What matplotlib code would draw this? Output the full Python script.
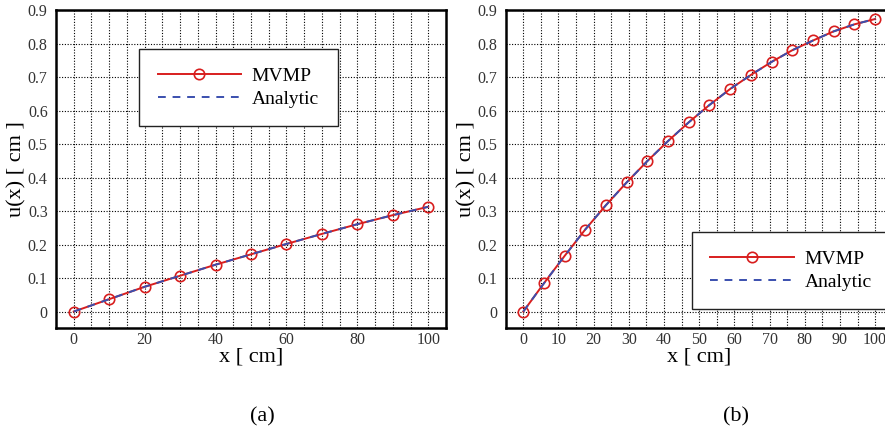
import matplotlib
matplotlib.use("Agg")
import matplotlib.pyplot as plt
from matplotlib.lines import Line2D

# panel (a): uniform nodes
x_a = [0, 10, 20, 30, 40, 50, 60, 70, 80, 90, 100]
u_a_mvmp = [0.0, 0.037, 0.074, 0.107, 0.140, 0.171, 0.202, 0.232, 0.261, 0.288, 0.313]
u_a_analytic = [0.0, 0.037, 0.074, 0.107, 0.140, 0.171, 0.202, 0.232, 0.261, 0.288, 0.313]

# panel (b): 18 nodes
x_b = [0, 5.9, 11.8, 17.6, 23.5, 29.4, 35.3, 41.2, 47.1, 52.9, 58.8, 64.7,
       70.6, 76.5, 82.4, 88.2, 94.1, 100]
u_b_mvmp = [0.0, 0.085, 0.167, 0.245, 0.318, 0.386, 0.450, 0.510, 0.566, 0.617,
            0.665, 0.707, 0.746, 0.781, 0.810, 0.837, 0.858, 0.874]
u_b_analytic = [0.0, 0.085, 0.167, 0.245, 0.318, 0.386, 0.450, 0.510, 0.566, 0.617,
                0.665, 0.707, 0.746, 0.781, 0.810, 0.837, 0.858, 0.874]

x_ticks_a = [0, 20, 40, 60, 80, 100]
x_ticks_b = [0, 10, 20, 30, 40, 50, 60, 70, 80, 90, 100]
y_ticks = [0, 0.1, 0.2, 0.3, 0.4, 0.5, 0.6, 0.7, 0.8, 0.9]

RED = '#d81e1e'
BLUE = '#3a4fae'

plt.rcParams['font.family'] = ['Liberation Serif', 'DejaVu Serif']

fig = plt.figure(figsize=(8.85, 4.33), dpi=100)
ax_a = fig.add_axes([56 / 885, 1 - 328.3 / 433, 390 / 885, 318 / 433])
ax_b = fig.add_axes([505.7 / 885, 1 - 328.3 / 433, 387 / 885, 318 / 433])


def draw_panel(ax, x, mvmp, analytic, xticks, legend_xy):
    ax.plot(x, mvmp, color=RED, lw=1.4, marker='o', ms=7.5, mfc='none',
            mec=RED, mew=1.2, zorder=3)
    ax.plot(x, analytic, color=BLUE, lw=1.4, ls=(0, (4, 3.5)), zorder=4)
    ax.set_xlim(-5, 105)
    ax.set_ylim(-0.05, 0.9)
    ax.set_xticks(xticks)
    ax.set_xticks(range(0, 105, 5), minor=True)
    ax.set_yticks(y_ticks)
    ax.set_yticklabels(['0' if v == 0 else f'{v:.1f}' for v in y_ticks])
    ax.tick_params(which='both', length=0, labelsize=11.5, labelcolor='#333333')
    ax.tick_params(axis='x', pad=3)
    ax.tick_params(axis='y', pad=6)
    ax.grid(which='both', axis='x', color='black', lw=0.8, ls=(0, (1, 1.5)))
    ax.grid(which='major', axis='y', color='black', lw=0.8, ls=(0, (1, 1.5)))
    ax.set_axisbelow(True)
    for s in ax.spines.values():
        s.set_linewidth(1.8)
    ax.set_xlabel('x [ cm]', fontsize=16, labelpad=-1)
    ax.set_ylabel('u(x) [ cm ]', fontsize=16, labelpad=1)
    mv_handle = Line2D([], [], color=RED, lw=1.4, marker='o', ms=7.5, mfc='none',
                       mec=RED, mew=1.2)
    an_handle = Line2D([], [], color=BLUE, lw=1.4, ls=(0, (4, 3.5)))
    leg = ax.legend([mv_handle, an_handle], ['MVMP', 'Analytic'],
                    loc='upper left', bbox_to_anchor=legend_xy, fontsize=14,
                    handlelength=4.3, handletextpad=0.55, borderpad=0.95,
                    labelspacing=0.25, numpoints=1,
                    fancybox=False, framealpha=1, edgecolor='#222222',
                    borderaxespad=0)
    leg.get_frame().set_linewidth(1.0)


draw_panel(ax_a, x_a, u_a_mvmp, u_a_analytic, x_ticks_a, (0.213, 0.878))
draw_panel(ax_b, x_b, u_b_mvmp, u_b_analytic, x_ticks_b, (0.481, 0.303))

fig.text(262 / 885, 1 - 417 / 433, '(a)', fontsize=16, ha='center', va='center')
fig.text(736 / 885, 1 - 417 / 433, '(b)', fontsize=16, ha='center', va='center')

fig.savefig('out.png', dpi=100)
